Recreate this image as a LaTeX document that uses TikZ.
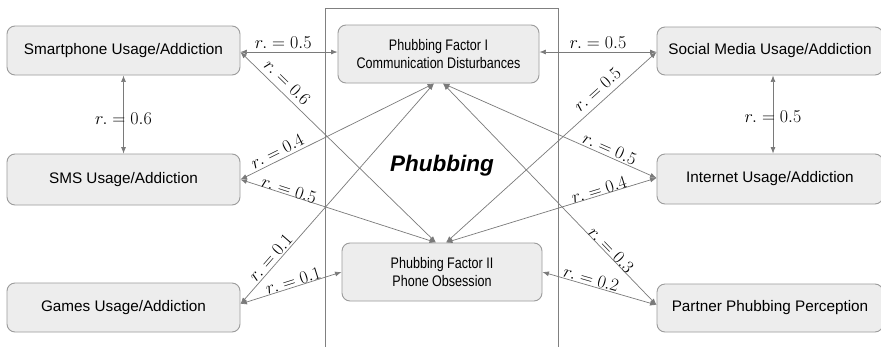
\RequirePackage{fix-cm}
\documentclass[tikz,border=0pt]{standalone}
\usepackage[no-math]{fontspec}
\setmainfont{Liberation Sans}
\newfontfamily\narrowsans[FakeStretch=0.82]{Liberation Sans}
\usetikzlibrary{arrows.meta}

\definecolor{boxfill}{HTML}{EDEDED}
\definecolor{boxline}{HTML}{9B9B9B}
\definecolor{linkgray}{HTML}{7A7A7A}
\definecolor{framegray}{HTML}{808080}

\begin{document}
\begin{tikzpicture}[x=1pt,y=-1pt,
  box/.style={draw=boxline, fill=boxfill, line width=0.9pt, rounded corners=8pt,
    inner sep=0pt, font=\fontsize{15.3}{18}\selectfont},
  factor/.style={box, align=center, font=\narrowsans\fontsize{15.3}{18.3}\selectfont},
  link/.style={draw=linkgray, line width=0.7pt,
    {Latex[length=6.5pt,width=5pt]}-{Latex[length=6.5pt,width=5pt]}},
  rlab/.style={font=\fontsize{18}{20}\selectfont, inner sep=0pt}
]
\useasboundingbox (0,0) rectangle (881,346);
\clip (0,0) rectangle (881,346);
\fill[white] (0,0) rectangle (881,346);

% frame around the two phubbing factors
\node[draw=framegray, line width=0.8pt, minimum width=233pt, minimum height=380pt,
  anchor=north west, inner sep=0pt] (frame) at (325,8) {};
\node[font=\bfseries\itshape\fontsize{22.5}{26}\selectfont, anchor=base] (title) at (442,171) {Phubbing};

% usage boxes on the left
\node[box, minimum width=233pt, minimum height=49pt] (sp) at (123.5,50.5) {Smartphone Usage/Addiction};
\node[box, minimum width=233pt, minimum height=51pt] (sms) at (123.5,179.5) {SMS Usage/Addiction};
\node[box, minimum width=233pt, minimum height=49pt] (games) at (123.5,307.5) {Games Usage/Addiction};

% the two factors
\node[factor, minimum width=201pt, minimum height=58pt] (f1) at (438.5,54) {Phubbing Factor I\\Communication Disturbances};
\node[factor, minimum width=200pt, minimum height=58pt] (f2) at (442,272) {Phubbing Factor II\\Phone Obsession};

% boxes on the right
\node[box, minimum width=226pt, minimum height=48pt] (sm) at (770,51) {Social Media Usage/Addiction};
\node[box, minimum width=226pt, minimum height=50pt] (inet) at (770,179) {Internet Usage/Addiction};
\node[box, minimum width=226pt, minimum height=48pt] (pp) at (770,308) {Partner Phubbing Perception};

% connector end points
\coordinate (spR) at ([yshift=-1.5pt]sp.east);
\coordinate (smsR) at (sms.east);
\coordinate (gmR) at ([yshift=3.5pt]games.east);
\coordinate (f1W) at ([yshift=2pt]f1.west);
\coordinate (f1E) at ([yshift=2pt]f1.east);
\coordinate (f1BL) at ([xshift=-4.5pt]f1.south);
\coordinate (f1BR) at ([xshift=4.5pt]f1.south);
\coordinate (f2TL) at ([xshift=-6pt]f2.north);
\coordinate (f2TR) at ([xshift=4pt]f2.north);
\coordinate (smL) at ([yshift=-1pt]sm.west);
\coordinate (inL) at ([yshift=1pt]inet.west);
\coordinate (ppL) at ([yshift=3pt]pp.west);

% correlations
\draw[link] (sp.south) -- node[rlab, pos=0.55] {$r.=0.6$} (sms.north);
\draw[link] ([xshift=3pt]sm.south) -- node[rlab, pos=0.53] {$r.=0.5$} ([xshift=3pt]inet.north);

\draw[link] (spR) -- node[rlab, sloped, pos=0.44, above=3.5pt] {$r.=0.5$} (f1W);
\draw[link] (spR) -- node[rlab, sloped, pos=0.2, above=5pt] {$r.=0.6$} (f2TL);
\draw[link] (smsR) -- node[rlab, sloped, pos=0.21, above=2.8pt] {$r.=0.4$} (f1BL);
\draw[link] (smsR) -- node[rlab, sloped, pos=0.24, above=-0.8pt] {$r.=0.5$} (f2TL);
\draw[link] (gmR) -- node[rlab, sloped, pos=0.186, above=1.9pt] {$r.=0.1$} (f1BL);
\draw[link] (gmR) -- node[rlab, sloped, pos=0.54, above=0pt] {$r.=0.1$} (f2.west);

\draw[link] (f1E) -- node[rlab, sloped, pos=0.5, above=3.5pt] {$r.=0.5$} (smL);
\draw[link] (f2TR) -- node[rlab, sloped, pos=0.757, above=5.9pt] {$r.=0.5$} (smL);
\draw[link] (f1BR) -- node[rlab, sloped, pos=0.766, above=1.6pt] {$r.=0.5$} (inL);
\draw[link] (f2TR) -- node[rlab, sloped, pos=0.735, above=-0.4pt] {$r.=0.4$} (inL);
\draw[link] (f1BR) -- node[rlab, sloped, pos=0.768, above=-0.4pt] {$r.=0.3$} (ppL);
\draw[link] (f2.east) -- node[rlab, sloped, pos=0.41, above=1.1pt] {$r.=0.2$} (ppL);
\end{tikzpicture}
\end{document}
